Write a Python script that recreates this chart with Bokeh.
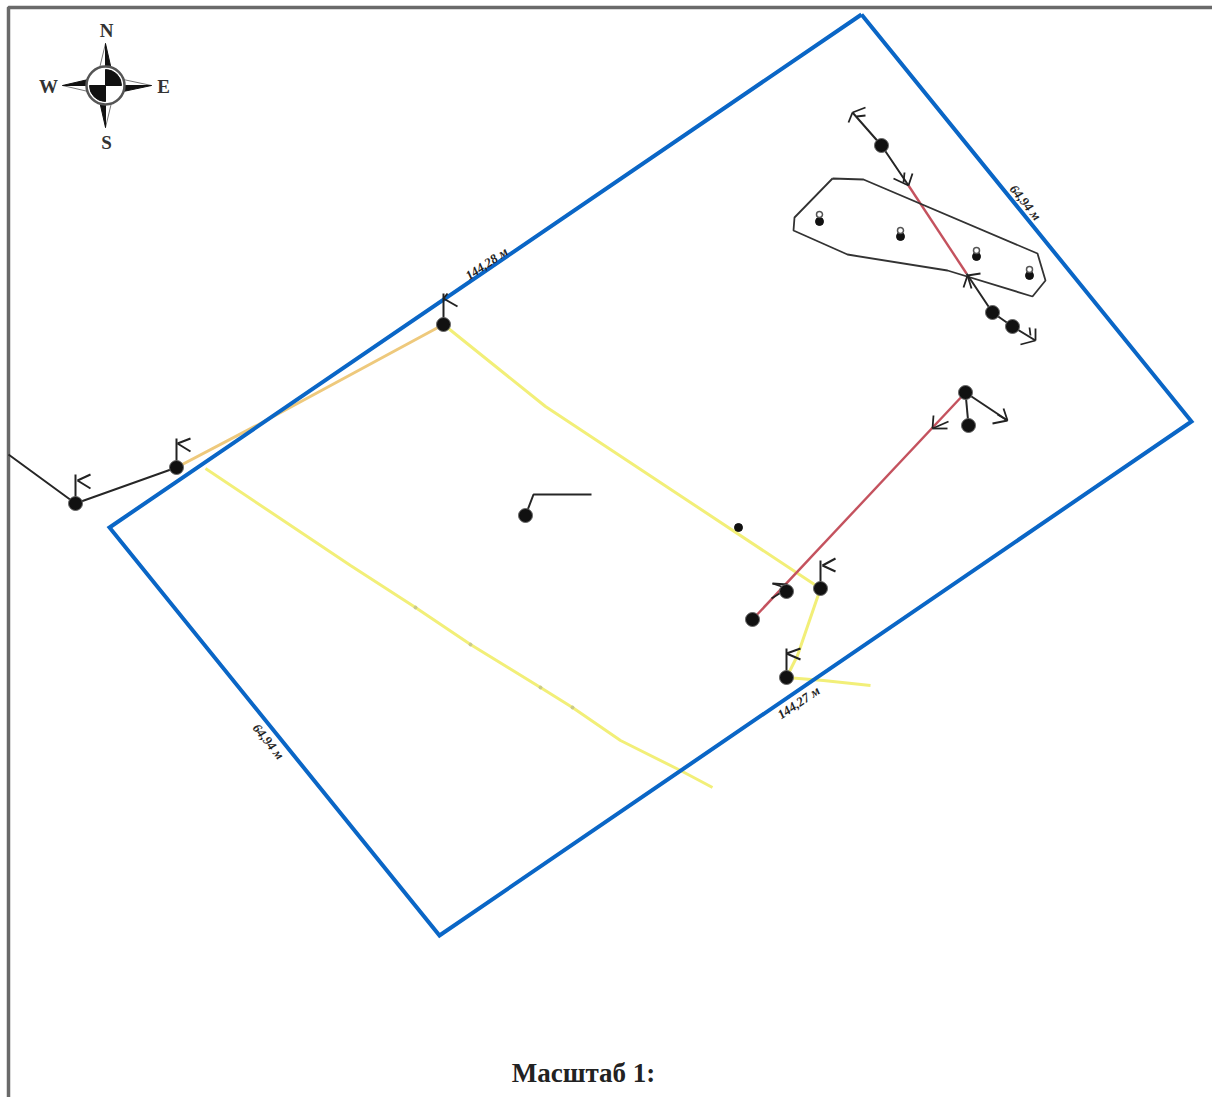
from bokeh.plotting import figure
from bokeh.models import Range1d
from bokeh.core.properties import value
from bokeh.embed import file_html
from bokeh.resources import INLINE
import math

W, H = 1212, 1097
plot_boundary = [(861, 14), (1191, 421), (439, 935), (109, 527), (861, 14)]
frame_line = [(1212, 7), (8, 7), (8, 1097)]
yellow_lines = [
    [(443, 324), (545, 406), (820, 588)],
    [(205, 468), (350, 565), (415, 607), (470, 644), (540, 687), (572, 707), (620, 740), (680, 770), (712, 787)],
    [(820, 588), (797, 655), (786, 677)],
    [(786, 677), (823, 680), (870, 685)],
]
orange_lines = [[(176, 467), (258, 424), (443, 324)]]
red_lines = [[(752, 619), (965, 392)], [(908, 185), (966, 273)]]
black_lines = [
    [(8, 454), (75, 503), (176, 467)],
    [(852, 112), (881, 145), (908, 185)],
    [(966, 273), (992, 312), (1012, 326), (1035, 340)],
    [(525, 515), (533, 494), (591, 494)],
    [(965, 392), (968, 425)],
    [(965, 392), (1007, 420)],
]
building = [(832, 178), (863, 179), (1037, 253), (1045, 280), (1032, 296), (947, 270), (847, 254), (793, 230), (794, 217), (832, 178)]
big_nodes = [(75, 503), (176, 467), (443, 324), (525, 515), (786, 677), (820, 588), (752, 619), (786, 591), (881, 145), (992, 312), (1012, 326), (965, 392), (968, 425)]
small_nodes = [(738, 527), (819, 221), (900, 236), (976, 256), (1029, 275)]
hollow_marks = [(819, 214), (900, 230), (976, 250), (1029, 269)]
faint_dots = [(415, 607), (470, 644), (540, 687), (572, 707)]
flags = [
    [(75, 503), (75, 474)], [(77, 480), (90, 474)], [(77, 480), (90, 488)],
    [(176, 467), (176, 438)], [(177, 443), (190, 438)], [(177, 443), (190, 451)],
    [(443, 324), (443, 293)], [(443, 298), (457, 306)], [(443, 298), (447, 293)],
    [(820, 588), (820, 560)], [(822, 565), (835, 558)], [(822, 565), (835, 571)],
    [(786, 677), (786, 648)], [(786, 653), (800, 648)], [(786, 653), (800, 659)],
]
arrow_barbs = [
    [(932, 428), (948, 421)], [(932, 428), (947, 428)], [(932, 428), (933, 415)],
    [(787, 588), (772, 583)], [(787, 588), (771, 598)], [(787, 584), (772, 583)],
    [(1007, 420), (1003, 408)], [(1007, 420), (992, 423)], [(1007, 420), (997, 414)],
    [(852, 112), (865, 107)], [(852, 112), (848, 122)], [(856, 116), (865, 115)],
    [(908, 185), (912, 173)], [(908, 185), (893, 178)], [(903, 182), (904, 172)],
    [(967, 275), (980, 273)], [(967, 275), (963, 287)], [(967, 275), (971, 288)],
    [(1035, 340), (1035, 328)], [(1035, 340), (1020, 344)], [(1030, 335), (1029, 327)],
]
edge_labels = ["144,28 м", "64,94 м", "144,27 м", "64,94 м"]
edge_label_pos = [(486, 263), (1025, 202), (798, 702), (268, 741)]
edge_label_deg = [34, -51, 34, -51]
compass_letters = ["N", "S", "W", "E"]
compass_letter_pos = [(106, 30), (106, 142), (48, 86), (163, 86)]
compass_center = (105, 85)
compass_black = [
    [(105, 43), (112, 74), (105, 68)],
    [(105, 127), (98, 96), (105, 102)],
    [(62, 85), (92, 78), (88, 85)],
    [(151, 85), (118, 92), (122, 85)],
]
compass_grey = [
    [(105, 43), (98, 72), (105, 68)],
    [(105, 127), (112, 98), (105, 102)],
    [(62, 85), (92, 92), (88, 85)],
    [(151, 85), (118, 78), (122, 85)],
]
title_text = "Масштаб 1:"
title_pos = (583, 1072)


def xs(seq):
    return [pt[0] for pt in seq]


def ys(seq):
    return [pt[1] for pt in seq]


p = figure(width=W, height=H, output_backend="svg", toolbar_location=None,
           x_range=Range1d(0, W), y_range=Range1d(H, 0),
           min_border=0, background_fill_color="white", outline_line_color=None)
p.axis.visible = False
p.grid.visible = False

p.line(xs(frame_line), ys(frame_line), line_color="#6a6a6a", line_width=3.5)
p.multi_line([xs(l) for l in yellow_lines], [ys(l) for l in yellow_lines], line_color="#f2ef78", line_width=3)
p.multi_line([xs(l) for l in orange_lines], [ys(l) for l in orange_lines], line_color="#eec97c", line_width=3)
p.scatter(xs(faint_dots), ys(faint_dots), size=3, color="#c9c98a")
p.line(xs(plot_boundary), ys(plot_boundary), line_color="#0a66c6", line_width=4, line_join="miter")
p.multi_line([xs(l) for l in red_lines], [ys(l) for l in red_lines], line_color="#c4525e", line_width=2.4)
p.line(xs(building), ys(building), line_color="#333333", line_width=1.8)
p.multi_line([xs(l) for l in black_lines], [ys(l) for l in black_lines], line_color="#262626", line_width=2)
p.multi_line([xs(l) for l in flags], [ys(l) for l in flags], line_color="#222222", line_width=2)
p.multi_line([xs(l) for l in arrow_barbs], [ys(l) for l in arrow_barbs], line_color="#222222", line_width=1.8)
p.scatter(xs(big_nodes), ys(big_nodes), size=14, fill_color="#111111", line_color="#666666", line_width=1)
p.scatter(xs(small_nodes), ys(small_nodes), size=8, fill_color="#111111", line_color="#111111")
p.scatter(xs(hollow_marks), ys(hollow_marks), size=6, fill_color="white", line_color="#555555", line_width=1.5)

p.text([q[0] for q in edge_label_pos], [q[1] for q in edge_label_pos], text=edge_labels,
       angle=[math.radians(d) for d in edge_label_deg], text_font=value("Liberation Serif"),
       text_font_size="13px", text_font_style="bold italic", text_color="#222222",
       text_align="center", text_baseline="middle")

# compass rose
cx, cy = compass_center
p.patches([xs(t) for t in compass_grey], [ys(t) for t in compass_grey], fill_color="white", line_color="#777777", line_width=1)
p.patches([xs(t) for t in compass_black], [ys(t) for t in compass_black], fill_color="#111111", line_color="#111111", line_width=1)
p.circle([cx], [cy], radius=19, fill_color="white", line_color="#555555", line_width=2.5)
p.wedge([cx, cx], [cy, cy], radius=16, start_angle=[0, math.pi], end_angle=[math.pi / 2, 3 * math.pi / 2],
        fill_color="#111111", line_color="#111111")
p.text([q[0] for q in compass_letter_pos], [q[1] for q in compass_letter_pos], text=compass_letters,
       text_font=value("Liberation Serif"), text_font_size="19px", text_font_style="bold", text_color="#333333",
       text_align="center", text_baseline="middle")

p.text([title_pos[0]], [title_pos[1]], text=[title_text], text_font=value("Liberation Serif"),
       text_font_size="27px", text_font_style="bold", text_color="#222222",
       text_align="center", text_baseline="middle")

open("out.html", "w").write(file_html(p, INLINE))
